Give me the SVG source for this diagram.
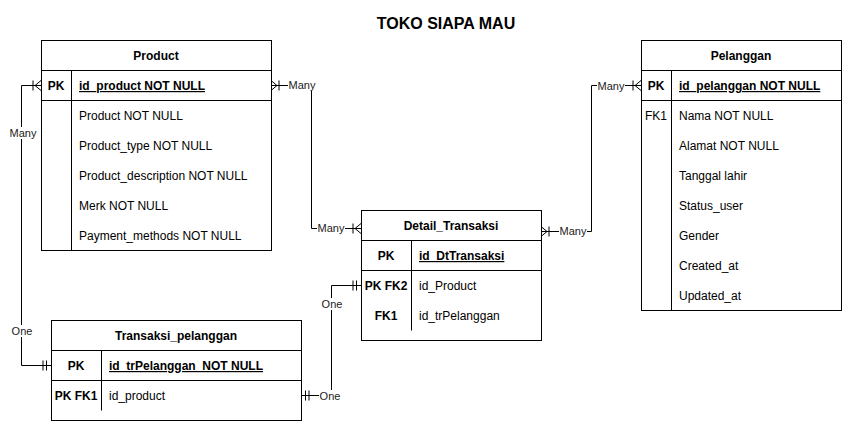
<svg xmlns="http://www.w3.org/2000/svg" width="853" height="432" viewBox="0 0 853 432">
<style>
  .box{fill:#fff;stroke:#000;stroke-width:1}
  .ln{fill:none;stroke:#000;stroke-width:1}
  text{font-family:"Liberation Sans",Arial,sans-serif;font-size:12px;fill:#000}
  .hd{font-weight:bold;text-anchor:middle}
  .key{text-anchor:middle}
  .b{font-weight:bold}
  .u{text-decoration:underline}
  .lbl{font-size:11px;fill:#222;text-anchor:middle}
  .lblbg{fill:#fff;stroke:none}
  .title{font-size:16px;font-weight:bold;text-anchor:middle}
</style>
<defs>
  <marker id="many" markerUnits="userSpaceOnUse" markerWidth="20" markerHeight="20" refX="0" refY="0" orient="auto-start-reverse" overflow="visible">
    <path d="M-8,-5V5M0,-5L-6,0L0,5M-6,0H0" fill="none" stroke="#000" stroke-width="1"/>
  </marker>
  <marker id="one" markerUnits="userSpaceOnUse" markerWidth="20" markerHeight="20" refX="0" refY="0" orient="auto-start-reverse" overflow="visible">
    <path d="M-8,-5V5M-4.5,-5V5" fill="none" stroke="#000" stroke-width="1"/>
  </marker>
</defs>
<rect width="853" height="432" fill="#fff"/>
<text class="title" x="446" y="29">TOKO SIAPA MAU</text>

<g id="connectors">
  <path class="ln" d="M41,85.5H21.5V365.5H51" marker-start="url(#many)" marker-end="url(#one)"/>
  <path class="ln" d="M271,85.5H311.5V228.5H361" marker-start="url(#many)" marker-end="url(#many)"/>
  <path class="ln" d="M541,231.5H591.5V85.5H641" marker-start="url(#many)" marker-end="url(#many)"/>
  <path class="ln" d="M301,395.5H331.5V285.5H361" marker-start="url(#one)" marker-end="url(#one)"/>
  <rect class="lblbg" x="9" y="127" width="28" height="12"/><text class="lbl" x="23" y="137">Many</text>
  <rect class="lblbg" x="11" y="325" width="22" height="12"/><text class="lbl" x="22" y="335">One</text>
  <rect class="lblbg" x="288" y="79" width="28" height="12"/><text class="lbl" x="302" y="89">Many</text>
  <rect class="lblbg" x="317" y="222" width="28" height="12"/><text class="lbl" x="331" y="232">Many</text>
  <rect class="lblbg" x="559" y="225" width="28" height="12"/><text class="lbl" x="573" y="235">Many</text>
  <rect class="lblbg" x="597" y="80" width="28" height="12"/><text class="lbl" x="611" y="90">Many</text>
  <rect class="lblbg" x="319" y="390" width="22" height="12"/><text class="lbl" x="330" y="400">One</text>
  <rect class="lblbg" x="321" y="298" width="22" height="12"/><text class="lbl" x="332" y="308">One</text>
</g>

<g id="product">
  <rect class="box" x="41.5" y="40.5" width="230" height="210"/>
  <path class="ln" d="M41.5,70.5H271.5M41.5,100.5H271.5M71.5,70.5V250.5"/>
  <text class="hd" x="156" y="60">Product</text>
  <text class="key b" x="56" y="90">PK</text>
  <text class="b u" x="79" y="90">id_product NOT NULL</text>
  <text x="79" y="120">Product NOT NULL</text>
  <text x="79" y="150">Product_type NOT NULL</text>
  <text x="79" y="180">Product_description NOT NULL</text>
  <text x="79" y="210">Merk NOT NULL</text>
  <text x="79" y="240">Payment_methods NOT NULL</text>
</g>

<g id="pelanggan">
  <rect class="box" x="641.5" y="40.5" width="200" height="270"/>
  <path class="ln" d="M641.5,70.5H841.5M641.5,100.5H841.5M671.5,70.5V310.5"/>
  <text class="hd" x="741" y="60">Pelanggan</text>
  <text class="key b" x="656" y="90">PK</text>
  <text class="b u" x="679" y="90">id_pelanggan NOT NULL</text>
  <text class="key" x="656" y="120">FK1</text>
  <text x="679" y="120">Nama NOT NULL</text>
  <text x="679" y="150">Alamat NOT NULL</text>
  <text x="679" y="180">Tanggal lahir</text>
  <text x="679" y="210">Status_user</text>
  <text x="679" y="240">Gender</text>
  <text x="679" y="270">Created_at</text>
  <text x="679" y="300">Updated_at</text>
</g>

<g id="detail_transaksi">
  <rect class="box" x="361.5" y="210.5" width="180" height="130"/>
  <path class="ln" d="M361.5,240.5H541.5M361.5,270.5H541.5M411.5,240.5V330.5"/>
  <text class="hd" x="451" y="230">Detail_Transaksi</text>
  <text class="key b" x="386" y="260">PK</text>
  <text class="b u" x="419" y="260">id_DtTransaksi</text>
  <text class="key b" x="386" y="290">PK FK2</text>
  <text x="419" y="290">id_Product</text>
  <text class="key b" x="386" y="320">FK1</text>
  <text x="419" y="320">id_trPelanggan</text>
</g>

<g id="transaksi_pelanggan">
  <rect class="box" x="51.5" y="320.5" width="250" height="100"/>
  <path class="ln" d="M51.5,350.5H301.5M51.5,380.5H301.5M101.5,350.5V410.5"/>
  <text class="hd" x="176" y="340">Transaksi_pelanggan</text>
  <text class="key b" x="76" y="370">PK</text>
  <text class="b u" x="109" y="370" xml:space="preserve">id_trPelanggan  NOT NULL</text>
  <text class="key b" x="76" y="400">PK FK1</text>
  <text x="109" y="400">id_product</text>
</g>
</svg>
